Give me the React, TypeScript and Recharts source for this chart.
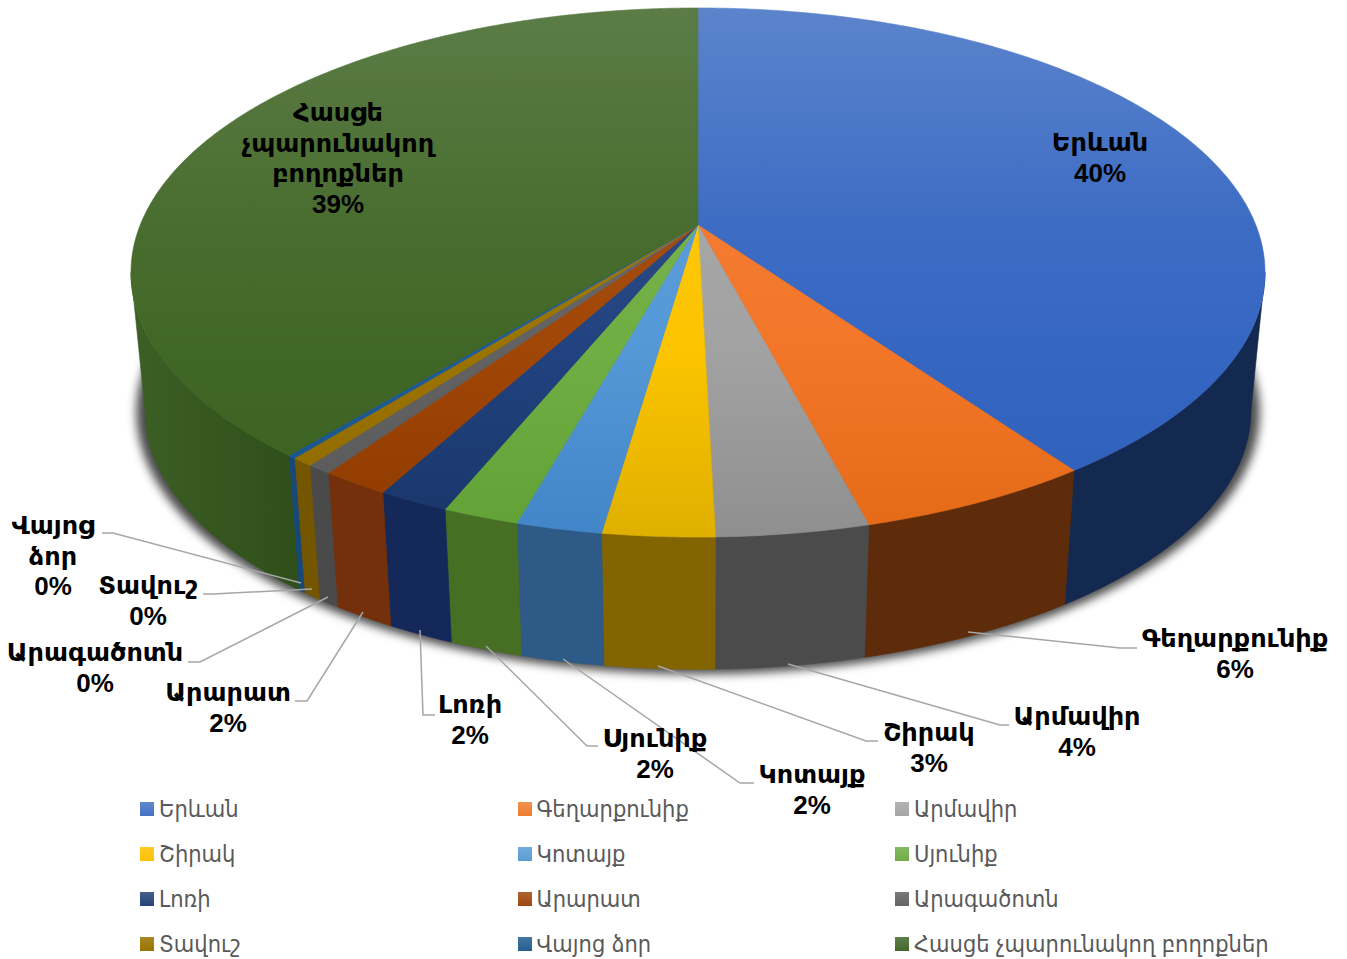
import React from "react";
import { PieChart, Pie, Legend } from "recharts";

const names = [
  "Երևան", "Գեղարքունիք", "Արմավիր", "Շիրակ", "Կոտայք", "Սյունիք",
  "Լոռի", "Արարատ", "Արագածոտն", "Տավուշ", "Վայոց ձոր", "Հասցե չպարունակող բողոքներ",
];
const values = [40.25, 5.68, 3.66, 2.68, 2.06, 1.84, 1.72, 1.66, 0.6, 0.53, 0.2, 39.12];
const percentLabels = ["40%", "6%", "4%", "3%", "2%", "2%", "2%", "2%", "0%", "0%", "0%", "39%"];
const colors = [
  "#4472c4", "#ed7d31", "#a5a5a5", "#ffc000", "#5b9bd5", "#70ad47",
  "#264478", "#9e480e", "#636363", "#997300", "#255e91", "#43682b",
];
const midColors = [
  "#3566c2", "#f37628", "#a2a2a2", "#fcc400", "#5498d7", "#6fae42",
  "#214280", "#a04606", "#626262", "#9a7300", "#1e5c98", "#416726",
];
const lowColors = [
  "#2e5fb8", "#e46a17", "#8f8f8f", "#dfb000", "#4285c8", "#62a136",
  "#183668", "#8f3a00", "#595959", "#8f6a00", "#185486", "#3b6020",
];
const sideColors = [
  "#14294f", "#5e2b0b", "#4b4b4b", "#826500", "#2d5a86", "#466f24",
  "#14295a", "#74300a", "#4a4a4a", "#755600", "#14497a", "#33561e",
];
const shadowData = [{ name: "shadow", value: 100 }];

// label blocks: text lines, centre x, first line y
const labelLines = [
  ["Երևան"], ["Գեղարքունիք"], ["Արմավիր"], ["Շիրակ"], ["Կոտայք"], ["Սյունիք"],
  ["Լոռի"], ["Արարատ"], ["Արագածոտն"], ["Տավուշ"], ["Վայոց", "ձոր"], ["Հասցե", "չպարունակող", "բողոքներ"],
];
const labelSpots = [
  [1100, 142], [1235, 638], [1077, 716], [929, 732], [812, 774], [655, 738],
  [470, 704], [228, 692], [95, 652], [148, 585], [53, 525], [338, 112],
];
const leaders: (number[][] | null)[] = [
  null,
  [[968, 632], [1120, 648], [1137, 648]],
  [[788, 664], [1000, 725], [1009, 725]],
  [[658, 666], [866, 741], [878, 741]],
  [[563, 659], [740, 783], [754, 783]],
  [[486, 646], [587, 746], [598, 746]],
  [[420, 630], [423, 715], [435, 715]],
  [[363, 612], [307, 701], [295, 701]],
  [[328, 597], [200, 662], [188, 662]],
  [[312, 589], [213, 594], [203, 594]],
  [[301, 583], [113, 533], [102, 533]],
  null,
];

const pieData = names.map((name, i) => ({ name, value: values[i], fill: colors[i], side: sideColors[i] }));

const LABEL_FONT = '"Liberation Sans", "DejaVu Sans", sans-serif';
const LEGEND_FONT = '"Liberation Sans", "DejaVu Sans Condensed", "DejaVu Sans", sans-serif';

// perspective of the tilted disc
const TILT = 0.459;
const K = -0.1796;
const BOTTOM_SCALE = 0.975;
const BOTTOM_DROP = 140;
// recharts angles at the left and right silhouette of the disc
const SIDE_START = -10.35;
const SIDE_END = -169.65;

function rim(cx: number, cy: number, r: number, angle: number, bottom = false, grow = 1) {
  const t = ((90 - angle) * Math.PI) / 180;
  const x = Math.sin(t);
  const y = -Math.cos(t);
  const d = 1 + K * y;
  const s = (bottom ? BOTTOM_SCALE : 1) * grow;
  return [cx + (s * r * x) / d, cy + (s * r * TILT * y) / d + (bottom ? BOTTOM_DROP : 0)];
}

function arcPoints(p: any, from: number, to: number, bottom = false, grow = 1) {
  const steps = Math.max(2, Math.ceil(Math.abs(to - from) * 2));
  const pts: number[][] = [];
  for (let i = 0; i <= steps; i++) {
    pts.push(rim(p.cx, p.cy, p.outerRadius, from + ((to - from) * i) / steps, bottom, grow));
  }
  return pts;
}

const toPath = (pts: number[][]) => "M" + pts.map((q) => q[0].toFixed(2) + " " + q[1].toFixed(2)).join("L") + "Z";

const TopSlice = (p: any) => {
  const d = toPath([[p.cx, p.cy], ...arcPoints(p, p.startAngle, p.endAngle)]);
  const fill = `url(#top-${p.index})`;
  return <path d={d} fill={fill} stroke={fill} strokeWidth={0.6} />;
};

const WallSlice = (p: any) => {
  // only the part of the wall that faces the viewer
  const from = Math.min(p.startAngle, SIDE_START);
  const to = Math.max(p.endAngle, SIDE_END);
  if (from <= to) return <g />;
  const d = toPath([...arcPoints(p, from, to), ...arcPoints(p, from, to, true).reverse()]);
  const fill = p.index === 11 ? "url(#wall-rest)" : p.side;
  return <path d={d} fill={fill} stroke={fill} strokeWidth={0.6} />;
};

const ShadowShape = (p: any) => (
  <path
    d={toPath(arcPoints(p, p.startAngle, p.endAngle, true, 1.016))}
    fill="#000"
    fillOpacity={0.7}
    style={{ filter: "blur(5px)" }}
  />
);

const renderLabel = (p: any) => {
  const i = p.index;
  const [x, y] = labelSpots[i];
  const lines = [...labelLines[i], percentLabels[i]];
  const line = leaders[i];
  return (
    <g key={i}>
      {line && (
        <polyline points={line.map((q) => q.join(",")).join(" ")} fill="none" stroke="#a6a6a6" strokeWidth={1.5} />
      )}
      {lines.map((t, n) => (
        <text
          key={n}
          x={x}
          y={y + n * 30.5}
          textAnchor="middle"
          dominantBaseline="central"
          fontFamily={LABEL_FONT}
          fontWeight={700}
          fontSize={n === lines.length - 1 ? 26 : 25.6}
          fill="#000"
        >
          {t}
        </text>
      ))}
    </g>
  );
};

// the legend payload repeats across the stacked pies, keep one entry per region in data order
const LegendGrid = ({ payload }: any) => {
  const items = names.map((n) => (payload || []).find((e: any) => e.value === n)).filter(Boolean);
  return (
    <div style={{ display: "grid", gridTemplateColumns: "377.5px 377.5px 400px", gridAutoRows: "26px", rowGap: 19 }}>
      {items.map((e: any) => (
        <div key={e.value} style={{ display: "flex", alignItems: "center", height: 26 }}>
          <span
            style={{
              width: 14,
              height: 14,
              marginRight: 5,
              background: `linear-gradient(${mix(e.color, "#ffffff", 0.15)}, ${e.color})`,
            }}
          />
          <span style={{ fontFamily: LEGEND_FONT, fontSize: 23.4, lineHeight: "26px", color: "#595959", whiteSpace: "nowrap" }}>
            {e.value}
          </span>
        </div>
      ))}
    </div>
  );
};

function mix(a: string, b: string, t: number) {
  const ch = (c: string, n: number) => parseInt(c.slice(1 + n * 2, 3 + n * 2), 16);
  const v = [0, 1, 2].map((n) => Math.round(ch(a, n) * (1 - t) + ch(b, n) * t));
  return `rgb(${v.join(",")})`;
}

export default function App() {
  return (
    <div style={{ position: "absolute", left: 0, top: 0, width: 1347, height: 959, background: "#fff" }}>
      <PieChart width={1347} height={959} margin={{ top: 0, right: 0, bottom: 0, left: 0 }}>
        <defs>
          {colors.map((c, i) => (
            <linearGradient key={i} id={`top-${i}`} gradientUnits="userSpaceOnUse" x1="0" y1="8" x2="0" y2="537">
              <stop offset="0%" stopColor={mix(c, "#ffffff", 0.13)} />
              <stop offset="41%" stopColor={mix(midColors[i], "#ffffff", 0.04)} />
              <stop offset="65%" stopColor={midColors[i]} />
              <stop offset="100%" stopColor={lowColors[i]} />
            </linearGradient>
          ))}
          <linearGradient id="wall-rest" gradientUnits="userSpaceOnUse" x1="135" y1="0" x2="295" y2="0">
            <stop offset="0%" stopColor="#3c5f25" />
            <stop offset="100%" stopColor="#2f4f1a" />
          </linearGradient>
        </defs>
        <Pie
          data={shadowData}
          dataKey="value"
          cx={698}
          cy={225}
          outerRadius={557.8}
          startAngle={90}
          endAngle={-270}
          stroke="none"
          legendType="none"
          shape={ShadowShape}
          isAnimationActive={false}
        />
        <Pie
          data={pieData}
          dataKey="value"
          nameKey="name"
          cx={698}
          cy={225}
          outerRadius={557.8}
          startAngle={90}
          endAngle={-270}
          stroke="none"
          legendType="none"
          shape={WallSlice}
          isAnimationActive={false}
        />
        <Pie
          data={pieData}
          dataKey="value"
          nameKey="name"
          cx={698}
          cy={225}
          outerRadius={557.8}
          startAngle={90}
          endAngle={-270}
          stroke="none"
          shape={TopSlice}
          label={renderLabel}
          labelLine={false}
          isAnimationActive={false}
        />
        <Legend
          content={<LegendGrid />}
          wrapperStyle={{ left: 140, top: 796, bottom: "auto", width: 1200, height: 161 }}
        />
      </PieChart>
    </div>
  );
}
